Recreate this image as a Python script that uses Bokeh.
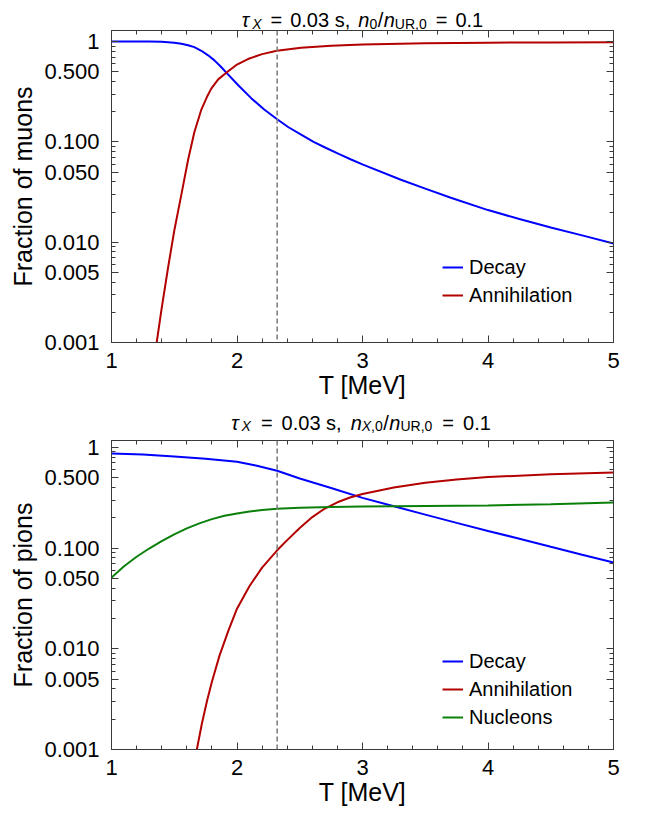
from bokeh.plotting import figure
from bokeh.models import (Range1d, FixedTicker, LinearAxis, LogAxis, Span,
                          Legend, LegendItem, CustomJSTickFormatter)
from bokeh.core.properties import value
from bokeh.layouts import column
from bokeh.embed import file_html
from bokeh.resources import INLINE

FONT = "Liberation Sans"

# ---------------- data ----------------
x_ticks = [1, 2, 3, 4, 5]
x_minor = [1.2, 1.4, 1.6, 1.8, 2.2, 2.4, 2.6, 2.8, 3.2, 3.4, 3.6, 3.8, 4.2, 4.4, 4.6, 4.8]
y_ticks = [0.001, 0.005, 0.01, 0.05, 0.1, 0.5, 1]
y_tick_labels = ["0.001", "0.005", "0.010", "0.050", "0.100", "0.500", "1"]
y_minor = [0.002, 0.003, 0.004, 0.006, 0.007, 0.008, 0.009,
           0.02, 0.03, 0.04, 0.06, 0.07, 0.08, 0.09,
           0.2, 0.3, 0.4, 0.6, 0.7, 0.8, 0.9]
t_mark = 2.32

# muons
mu_decay_T = [1.0, 1.3, 1.4, 1.5, 1.557, 1.61, 1.66, 1.716, 1.77, 1.82, 1.87, 1.915,
              2.01, 2.113, 2.217, 2.32, 2.41, 2.511, 2.61, 2.71, 2.81, 2.909, 3.004,
              3.306, 3.5, 3.704, 4.0, 4.25, 4.5, 4.75, 5.0]
mu_decay = [1.0, 1.0, 0.995, 0.975, 0.95, 0.92, 0.88, 0.81, 0.73, 0.65, 0.565, 0.49,
            0.367, 0.273, 0.21, 0.168, 0.14, 0.118, 0.1, 0.0869, 0.076, 0.0668, 0.0594,
            0.0419, 0.0342, 0.0277, 0.0209, 0.017, 0.014, 0.0117, 0.0097]
mu_ann_T = [1.34, 1.36, 1.40, 1.45, 1.50, 1.557, 1.61, 1.66, 1.716, 1.76, 1.795, 1.85,
            1.915, 2.0, 2.087, 2.2, 2.318, 2.51, 2.75, 3.0, 3.5, 4.0, 4.5, 5.0]
mu_ann = [0.0006, 0.001, 0.0022, 0.0055, 0.013, 0.030, 0.066, 0.125, 0.21, 0.28, 0.34,
          0.42, 0.49, 0.59, 0.67, 0.75, 0.81, 0.87, 0.91, 0.935, 0.96, 0.975, 0.982, 0.987]

# pions
pi_decay_T = [1.0, 1.25, 1.5, 1.75, 2.0, 2.15, 2.32, 2.5, 2.75, 3.0, 3.25, 3.5, 3.75,
              4.0, 4.25, 4.5, 4.75, 5.0]
pi_decay = [0.87, 0.85, 0.81, 0.77, 0.72, 0.66, 0.585, 0.49, 0.395, 0.315, 0.26, 0.215,
            0.178, 0.148, 0.124, 0.103, 0.086, 0.072]
pi_ann_T = [1.66, 1.68, 1.72, 1.76, 1.8, 1.86, 1.93, 2.0, 2.1, 2.2, 2.32, 2.4, 2.5, 2.6,
            2.7, 2.8, 2.9, 3.0, 3.25, 3.5, 3.75, 4.0, 4.5, 5.0]
pi_ann = [0.0007, 0.001, 0.0018, 0.003, 0.0047, 0.0085, 0.015, 0.025, 0.042, 0.064,
          0.095, 0.12, 0.158, 0.203, 0.247, 0.285, 0.318, 0.345, 0.40, 0.445, 0.48,
          0.507, 0.542, 0.563]
pi_nuc_T = [1.0, 1.1, 1.2, 1.3, 1.4, 1.5, 1.6, 1.7, 1.8, 1.9, 2.0, 2.1, 2.2, 2.32, 2.5,
            2.75, 3.0, 3.5, 4.0, 4.5, 5.0]
pi_nuc = [0.051, 0.066, 0.082, 0.099, 0.117, 0.137, 0.157, 0.176, 0.194, 0.209, 0.221,
          0.231, 0.239, 0.246, 0.252, 0.256, 0.258, 0.261, 0.265, 0.272, 0.283]

BLUE = "#0000FF"
RED = "#B30000"
GREEN = "#0A800A"
AX = "#3a3a3a"

W = 649
BL = 111          # frame left edge (px)
BR = 36           # right border (px)

EM = {' ': 0.278, '=': 0.584, '.': 0.278, 's': 0.5, ',': 0.278, '/': 0.278,
      'U': 0.722, 'R': 0.722, 'X': 0.667, 'n': 0.556, 'τ': 0.47}
for d in "0123456789":
    EM[d] = 0.556


def twidth(t, size):
    return sum(EM.get(c, 0.55) for c in t) * size


def title_fig(height, pieces, center, base, size=20, sub=14, drop=4):
    # pieces: (text, italic, subscript, gap_before_px); x range = page pixels
    t = figure(width=W, height=height, x_range=Range1d(BL, W - BR),
               y_range=Range1d(0, height), output_backend="svg",
               toolbar_location=None, min_border_left=BL, min_border_right=BR,
               min_border_top=0, min_border_bottom=0,
               x_axis_location=None, y_axis_location=None)
    t.grid.visible = False
    t.outline_line_color = None
    total = sum(g + twidth(s_, sub if sb else size) for s_, it, sb, g in pieces)
    x = center - total / 2
    for s_, it, sb, g in pieces:
        fs = sub if sb else size
        x += g
        t.text(x=[x], y=[base - (drop if sb else 0)], text=[s_],
               text_font=value(FONT), text_font_size=f"{fs}px",
               text_font_style="italic" if it else "normal", text_color="black",
               text_baseline="alphabetic", text_align="left")
        x += twidth(s_, fs)
    return t


def make_fig(height, bt, bb, ymax, ylabel):
    p = figure(width=W, height=height, x_range=Range1d(1, 5),
               y_range=Range1d(0.001, ymax), y_axis_type="log",
               output_backend="svg", toolbar_location=None,
               min_border_left=BL, min_border_right=BR, min_border_top=bt,
               min_border_bottom=bb)
    p.outline_line_color = AX
    p.outline_line_width = 1
    p.grid.visible = False
    bottom = p.below[0]
    left = p.left[0]
    xt = FixedTicker(ticks=x_ticks, minor_ticks=x_minor)
    yt = FixedTicker(ticks=y_ticks, minor_ticks=y_minor)
    bottom.ticker = xt
    left.ticker = yt
    left.major_label_overrides = {t: l for t, l in zip(y_ticks, y_tick_labels)}
    blank = CustomJSTickFormatter(code="return ''")
    top = LinearAxis(ticker=xt, formatter=blank)
    right = LogAxis(ticker=yt, formatter=blank)
    p.add_layout(top, "above")
    p.add_layout(right, "right")
    for ax in [bottom, left, top, right]:
        ax.axis_line_color = AX
        ax.major_tick_line_color = AX
        ax.minor_tick_line_color = AX
        ax.major_tick_in = 7
        ax.major_tick_out = 0
        ax.minor_tick_in = 4
        ax.minor_tick_out = 0
        ax.major_label_text_font = FONT
        ax.major_label_text_font_size = "22px"
        ax.major_label_text_color = "black"
        ax.axis_label_text_font = FONT
        ax.axis_label_text_font_style = "normal"
        ax.axis_label_text_font_size = "25px"
        ax.axis_label_text_color = "black"
    top.major_label_standoff = 0
    right.major_label_standoff = 0
    bottom.axis_label = "T [MeV]"
    bottom.major_label_standoff = 10
    bottom.axis_label_standoff = 0
    left.axis_label = ylabel
    left.major_label_standoff = 12
    left.axis_label_standoff = 4
    p.add_layout(Span(location=t_mark, dimension="height", line_color="#808080",
                      line_width=1.6, line_dash="5 3"))
    return p


def style_legend(lg):
    lg.border_line_color = None
    lg.background_fill_alpha = 0
    lg.label_text_font = FONT
    lg.label_text_font_size = "20px"
    lg.label_text_color = "black"
    lg.glyph_width = 21
    lg.glyph_height = 24
    lg.label_height = 24
    lg.label_standoff = 6
    lg.spacing = 4
    lg.padding = 0
    lg.margin = 0


# ---------------- top: muons ----------------
t1 = title_fig(30, [("τ", True, False, 0), ("X", True, True, 1),
                    ("=", False, False, 9), ("0.03", False, False, 8),
                    ("s,", False, False, 5.6), ("n", True, False, 8),
                    ("0", False, True, 0), ("/", False, False, 0.5),
                    ("n", True, False, 0.5), ("UR,0", False, True, 0),
                    ("=", False, False, 9), ("0.1", False, False, 8)],
               center=362, base=11)

p1 = make_fig(372, 0, 60, 1.29, "Fraction of muons")
r1 = p1.line(mu_decay_T, mu_decay, line_color=BLUE, line_width=2)
r2 = p1.line(mu_ann_T, mu_ann, line_color=RED, line_width=2)
lg1 = Legend(items=[LegendItem(label="Decay", renderers=[r1]),
                    LegendItem(label="Annihilation", renderers=[r2])],
             location=(331, 35))
style_legend(lg1)
p1.add_layout(lg1)

# ---------------- bottom: pions ----------------
t2 = title_fig(33, [("τ", True, False, 0), ("X", True, True, 1),
                    ("=", False, False, 10), ("0.03", False, False, 9),
                    ("s,", False, False, 5.6), ("n", True, False, 9),
                    ("X", True, True, 0), (",0", False, True, 0),
                    ("/", False, False, 0.5), ("n", True, False, 0.5),
                    ("UR,0", False, True, 0),
                    ("=", False, False, 10), ("0.1", False, False, 9)],
               center=360.5, base=13, drop=3)

p2 = make_fig(384, 5, 70, 1.17, "Fraction of pions")
s1 = p2.line(pi_decay_T, pi_decay, line_color=BLUE, line_width=2)
s2 = p2.line(pi_ann_T, pi_ann, line_color=RED, line_width=2)
s3 = p2.line(pi_nuc_T, pi_nuc, line_color=GREEN, line_width=2)
lg2 = Legend(items=[LegendItem(label="Decay", renderers=[s1]),
                    LegendItem(label="Annihilation", renderers=[s2]),
                    LegendItem(label="Nucleons", renderers=[s3])],
             location=(331, 20))
style_legend(lg2)
p2.add_layout(lg2)

layout = column(t1, p1, t2, p2, spacing=0)
open("out.html", "w").write(file_html(layout, INLINE))
